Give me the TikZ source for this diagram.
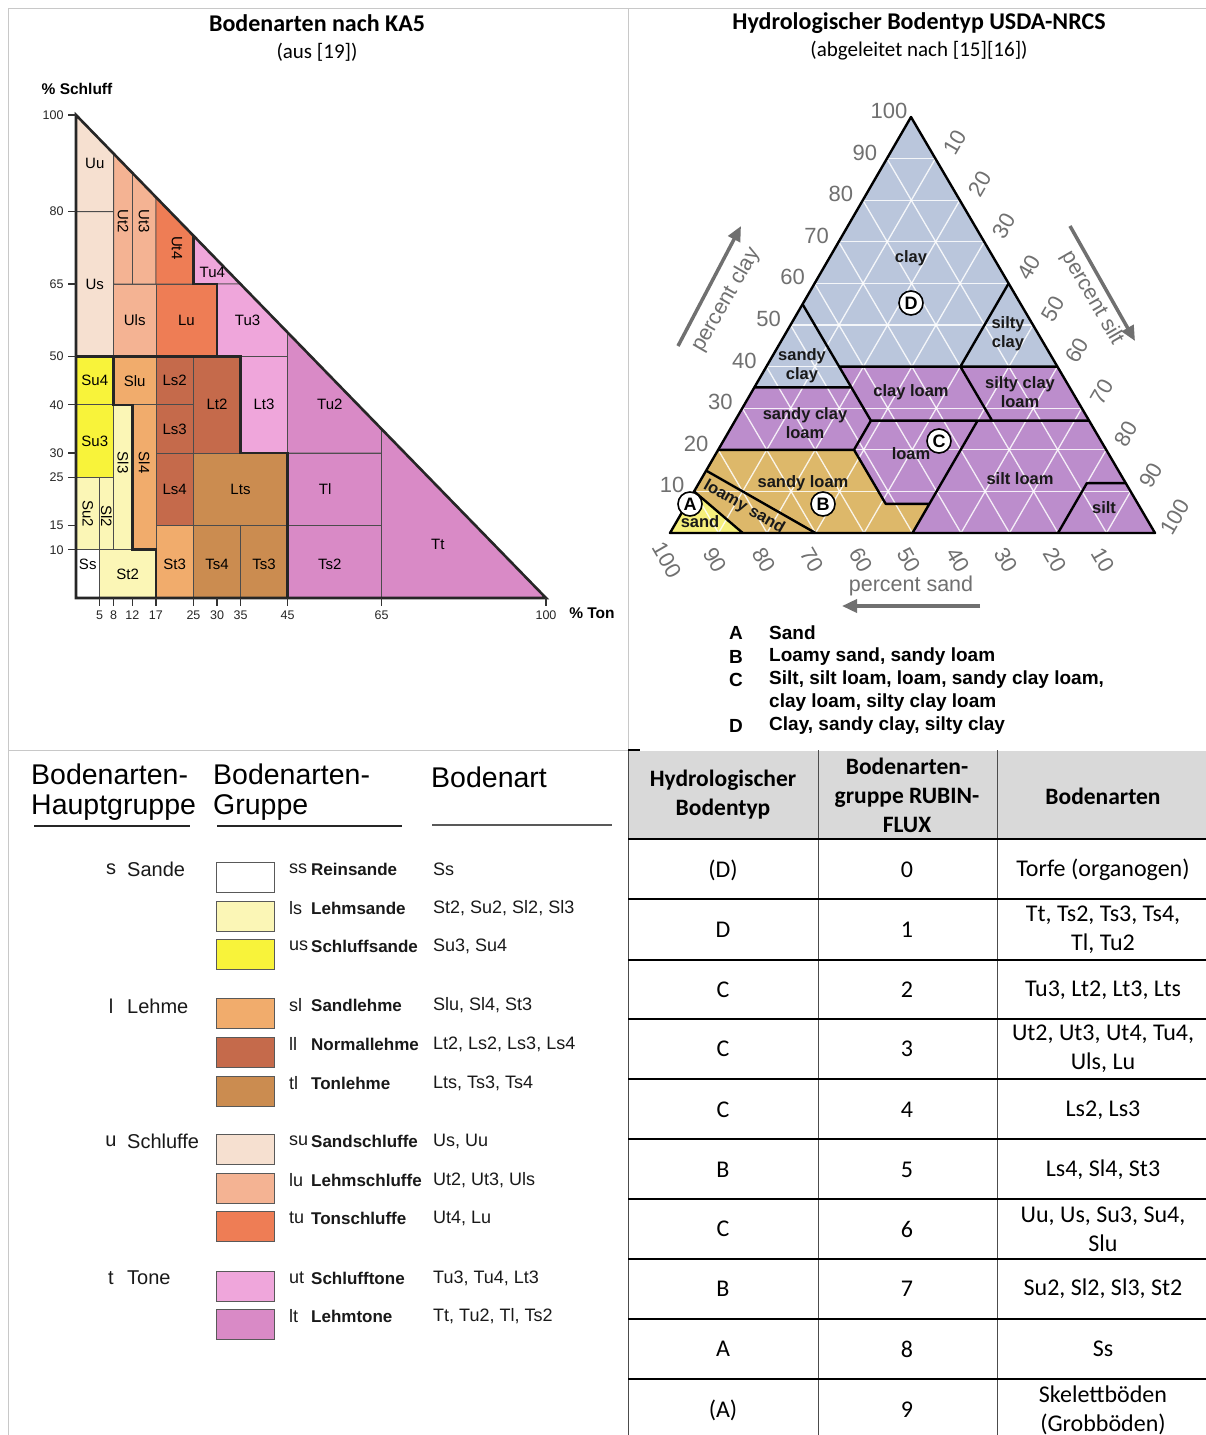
\documentclass[tikz,border=0pt]{standalone}
\usepackage{fontspec}
\setmainfont{Carlito}
\newfontfamily\arialfont{Liberation Sans}
\usetikzlibrary{arrows.meta}

\newcommand{\sz}[2]{\fontsize{#1}{#2}\selectfont}

\definecolor{framegray}{HTML}{C8C8C8}
\definecolor{axisgray}{HTML}{707070}
\definecolor{headgray}{HTML}{D9D9D9}
% KA5 groups
\definecolor{colss}{HTML}{FFFFFF}
\definecolor{colls}{HTML}{FBF6B6}
\definecolor{colus}{HTML}{F8F33A}
\definecolor{colsl}{HTML}{F1AC6C}
\definecolor{colll}{HTML}{C56A4B}
\definecolor{coltl}{HTML}{CB8C50}
\definecolor{colsu}{HTML}{F6E0D0}
\definecolor{collu}{HTML}{F4B393}
\definecolor{coltu}{HTML}{EE7D55}
\definecolor{colut}{HTML}{EFA6DB}
\definecolor{collt}{HTML}{D98AC6}
% USDA groups
\definecolor{usdaA}{HTML}{F6F07C}
\definecolor{usdaB}{HTML}{DDB86A}
\definecolor{usdaC}{HTML}{BC8DCC}
\definecolor{usdaD}{HTML}{BAC6DC}

\tikzset{
  panelrule/.style={draw=framegray, line width=1pt},
  paneltitle/.style={font=\bfseries\sz{24}{28}, inner sep=0pt},
  panelsub/.style={font=\sz{21}{25}, inner sep=0pt},
  region/.style={draw=black!70, line width=0.8pt},
  kabound/.style={draw=black!85, line width=2.6pt, line join=miter},
  kalabel/.style={font=\arialfont\sz{15}{15}, inner sep=0pt},
  kavert/.style={kalabel, rotate=-90},
  katick/.style={draw=black!80, line width=1.3pt},
  kanum/.style={font=\arialfont\sz{12.5}{13}, inner sep=0pt, text=black!85},
  kaaxis/.style={font=\arialfont\bfseries\sz{15.5}{16}, inner sep=0pt},
  usdagrid/.style={white, line width=1.3pt, opacity=0.85},
  usdaline/.style={black, line width=2.4pt, line join=round},
  usdalabel/.style={font=\arialfont\bfseries\sz{16.5}{19}, align=center, inner sep=0pt, text=black!90},
  usdaclass/.style={circle, draw=black, line width=1.6pt, fill=white, minimum size=24pt, inner sep=0pt, font=\arialfont\bfseries\sz{18}{18}},
  usdanum/.style={font=\arialfont\sz{22}{22}, text=axisgray, inner sep=0pt},
  usdaaxis/.style={font=\arialfont\sz{21.5}{22}, text=axisgray, inner sep=0pt},
  usdaarrow/.style={draw=axisgray, line width=3.5pt, -{Triangle[length=15pt,width=13pt]}},
  usdakey/.style={font=\arialfont\bfseries\sz{19}{22}, inner sep=0pt},
  leghead/.style={font=\arialfont\sz{28.5}{30}, text=black, align=left, anchor=west, inner sep=0pt},
  legrule/.style={draw=black!85, line width=2pt},
  leggroup/.style={font=\arialfont\sz{20}{20}, text=black!90, inner sep=0pt},
  legrow/.style={font=\arialfont\sz{18}{18}, text=black!90, anchor=west, inner sep=0pt},
  swatch/.style={draw=black!65, line width=1pt},
  tabh/.style={draw=black, line width=2pt},
  tabv/.style={draw=black!70, line width=1pt},
  tabhead/.style={font=\bfseries\sz{23.5}{29}, align=center, inner sep=0pt},
  tabcell/.style={font=\sz{24}{29}, align=center, inner sep=0pt},
}

\begin{document}
\begin{tikzpicture}[x=1pt, y=-1pt]
  \useasboundingbox[fill=white] (0,0) rectangle (1206,1435);

  % panels
  \draw[panelrule] (8,8) -- (1206,8);
  \draw[panelrule] (8,8) -- (8,1435);
  \draw[panelrule] (628,8) -- (628,750);
  \draw[panelrule] (8,750) -- (628,750);

  \node[paneltitle] (katitle) at (317,23) {Bodenarten nach KA5};
  \node[panelsub] (kasub) at (317,52) {(aus [19])};
  \node[paneltitle] (usdatitle) at (919,23) {Hydrologischer Bodentyp USDA-NRCS};
  \node[panelsub] (usdasub) at (919,51) {(abgeleitet nach [15][16])};

  % KA5 triangle, % Ton / % Schluff
  \begin{scope}[shift={(76,598)}, x={(4.7pt,0pt)}, y={(0pt,4.83pt)}]
    \foreach \xa/\ya/\xb/\yb/\c in {0/50/8/80/colsu, 8/50/17/65/collu, 17/50/30/65/coltu,
        35/30/45/50/colut, 45/15/65/30/collt, 45/0/65/15/collt, 0/40/8/50/colus,
        0/25/8/40/colus, 8/40/17/50/colsl, 12/10/17/40/colsl, 17/0/25/15/colsl,
        17/40/25/50/colll, 17/30/25/40/colll, 17/15/25/30/colll, 25/30/35/50/colll,
        25/15/45/30/coltl, 25/0/35/15/coltl, 35/0/45/15/coltl, 0/10/5/25/colls,
        5/10/8/25/colls, 8/10/12/40/colls, 5/0/17/10/colls, 0/0/5/10/colss}
      \filldraw[region, fill=\c] (\xa,\ya) rectangle (\xb,\yb);
    \filldraw[region, fill=colsu] (0,80) -- (8,80) -- (8,92) -- (0,100) -- cycle;
    \filldraw[region, fill=collu] (8,65) -- (12,65) -- (12,88) -- (8,92) -- cycle;
    \filldraw[region, fill=collu] (12,65) -- (17,65) -- (17,83) -- (12,88) -- cycle;
    \filldraw[region, fill=coltu] (17,65) -- (25,65) -- (25,75) -- (17,83) -- cycle;
    \filldraw[region, fill=colut] (25,65) -- (35,65) -- (25,75) -- cycle;
    \filldraw[region, fill=colut] (30,50) -- (45,50) -- (45,55) -- (35,65) -- (30,65) -- cycle;
    \filldraw[region, fill=collt] (45,30) -- (65,30) -- (65,35) -- (45,55) -- cycle;
    \filldraw[region, fill=collt] (65,0) -- (100,0) -- (65,35) -- cycle;

    \draw[kabound] (0,50) -- (35,50) -- (35,30) -- (45,30) -- (45,0);
    \draw[kabound] (8,50) -- (8,40) -- (12,40) -- (12,10) -- (17,10) -- (17,0);
    \draw[kabound] (25,75) -- (25,65) -- (30,65) -- (30,50);
    \draw[kabound] (0,0) -- (100,0) -- (0,100) -- cycle;

    \foreach \t/\x/\y in {Uu/4/90, Us/4/65, Uls/12.5/57.5, Lu/23.5/57.5, Tu3/36.5/57.5,
        Tu4/29/67.5, Su4/4/45, Slu/12.5/45, Ls2/21/45, Lt2/30/40, Lt3/40/40, Tu2/54/40,
        Ls3/21/35, Su3/4/32.5, Ls4/21/22.5, Lts/35/22.5, Tl/53/22.5, Tt/77/11, Ss/2.5/7,
        St2/11/5, St3/21/7, Ts4/30/7, Ts3/40/7, Ts2/54/7}
      \node[kalabel] (ka-\t) at (\x,\y) {\t};
    \foreach \t/\x/\y in {Ut2/10/78, Ut3/14.5/78, Ut4/21.5/72.5, Sl3/10/28, Sl4/14.5/28,
        Su2/2.5/17.5, Sl2/6.5/17}
      \node[kavert] (ka-\t) at (\x,\y) {\t};

    \foreach \v in {100,80,65,50,40,30,25,15,10} {
      \draw[katick] (-1.7,\v) -- (0,\v);
      \node[kanum, anchor=east] (schluff\v) at (-2.6,\v) {\v};
    }
    \foreach \v in {5,8,12,17,25,30,35,45,65,100} {
      \draw[katick] (\v,0) -- (\v,-1.7);
      \node[kanum] (ton\v) at (\v,-3.5) {\v};
    }
  \end{scope}
  \node[kaaxis] (schluff) at (77,89) {\% Schluff};
  \node[kaaxis] (ton) at (592,613) {\% Ton};

  % USDA triangle, (silt, clay)
  \begin{scope}[shift={(670,533)}, x={(4.85pt,0pt)}, y={(2.41pt,4.16pt)}]
    \fill[usdaC] (0,0) -- (100,0) -- (0,100) -- cycle;
    \fill[usdaD] (0,100) -- (60,40) -- (40,40) -- (15,40) -- (20,35) -- (0,35) -- cycle;
    \fill[usdaB] (0,10) -- (15,0) -- (50,0) -- (50,7) -- (41,7) -- (28,20) -- (0,20) -- cycle;
    \fill[usdaA] (0,0) -- (15,0) -- (0,10) -- cycle;
    \foreach \v in {10,20,...,90} {
      \draw[usdagrid] (0,\v) -- (100-\v,\v);
      \draw[usdagrid] (\v,0) -- (\v,100-\v);
      \draw[usdagrid] (\v,0) -- (0,\v);
    }
    \draw[usdaline] (0,55) -- (15,40) -- (40,40) -- (40,60)
                    (40,40) -- (60,40)
                    (0,35) -- (20,35)
                    (15,40) -- (20,35) -- (28,27)
                    (28,27) -- (73,27)
                    (40,40) -- (53,27)
                    (0,20) -- (28,20) -- (28,27)
                    (28,20) -- (41,7) -- (50,7)
                    (50,27) -- (50,0)
                    (80,0) -- (80,12) -- (88,12)
                    (0,15) -- (30,0)
                    (0,10) -- (15,0);
    \draw[usdaline] (0,0) -- (100,0) -- (0,100) -- cycle;
  \end{scope}

  \node[usdalabel] (clay) at (911,258) {clay};
  \node[usdalabel] (siltyclay) at (1008,334) {silty\\clay};
  \node[usdalabel] (sandyclay) at (802,366) {sandy\\clay};
  \node[usdalabel] (clayloam) at (911,392) {clay loam};
  \node[usdalabel] (siltyclayloam) at (1020,392) {silty clay\\loam};
  \node[usdalabel] (sandyclayloam) at (805,423) {sandy clay\\loam};
  \node[usdalabel] (loam) at (911,454) {loam};
  \node[usdalabel] (siltloam) at (1020,479) {silt loam};
  \node[usdalabel] (sandyloam) at (803,483) {sandy loam};
  \node[usdalabel] (silt) at (1104,508) {silt};
  \node[usdalabel, rotate=-30] (loamysand) at (744,507) {loamy sand};
  \node[usdalabel] (sand) at (700,522) {sand};
  \node[usdaclass] (classD) at (911,303) {D};
  \node[usdaclass] (classC) at (939,441) {C};
  \node[usdaclass] (classB) at (823,504) {B};
  \node[usdaclass] (classA) at (690,504) {A};

  \foreach \c in {10,20,...,100}
    \node[usdanum] (clay\c) at ({648+2.41*\c},{527-4.16*\c}) {\c};
  \foreach \t in {10,20,...,100}
    \node[usdanum, rotate=60] (silt\t) at ({690+4.85*\t+2.41*(100-\t)},{517-4.16*(100-\t)}) {\t};
  \foreach \s in {10,20,...,100}
    \node[usdanum, rotate=-60] (sand\s) at ({667+4.85*(100-\s)},560) {\s};

  \node[usdaaxis, rotate=60] (pclay) at (726,300) {percent clay};
  \node[usdaaxis, rotate=-60] (psilt) at (1092,298) {percent silt};
  \node[usdaaxis] (psand) at (911,586) {percent sand};
  \coordinate (clayfrom) at (678,346);
  \coordinate (clayto) at (741,226);
  \coordinate (siltfrom) at (1070,226);
  \coordinate (siltto) at (1135,341);
  \coordinate (sandfrom) at (980,606);
  \coordinate (sandto) at (842,606);
  \draw[usdaarrow] (clayfrom) -- (clayto);
  \draw[usdaarrow] (siltfrom) -- (siltto);
  \draw[usdaarrow] (sandfrom) -- (sandto);

  \foreach \y/\k/\t in {633/A/Sand, 657/B/{Loamy sand, sandy loam},
      680/C/{Silt, silt loam, loam, sandy clay loam,}, 726/D/{Clay, sandy clay, silty clay}} {
    \node[usdakey] (key\k) at (736,\y) {\k};
    \node[usdakey, anchor=west] (keytext\k) at (769,\y) {\t};
  }
  \node[usdakey, anchor=west] (keytextC2) at (769,703) {clay loam, silty clay loam};

  % KA5 legend
  \node[leghead] (hhaupt) at (31,792) {Bodenarten-\\Hauptgruppe};
  \node[leghead] (hgruppe) at (213,792) {Bodenarten-\\Gruppe};
  \node[leghead] (hart) at (431,777) {Bodenart};
  \draw[legrule] (34,826) -- (190,826);
  \draw[legrule] (217,826) -- (402,826);
  \draw[legrule, draw=black!65] (432,825) -- (612,825);

  \foreach \y/\k/\g in {869/s/Sande, 1006/l/Lehme, 1141/u/Schluffe, 1278/t/Tone} {
    \node[leggroup] (gk-\k) at (111,\y) {\k};
    \node[leggroup, anchor=west] (gn-\k) at (127,\y) {\g};
  }
  \foreach \y/\c/\a/\nm/\arts in {869/colss/ss/Reinsande/Ss,
      908/colls/ls/Lehmsande/{St2, Su2, Sl2, Sl3}, 946/colus/us/Schluffsande/{Su3, Su4},
      1005/colsl/sl/Sandlehme/{Slu, Sl4, St3}, 1044/colll/ll/Normallehme/{Lt2, Ls2, Ls3, Ls4},
      1083/coltl/tl/Tonlehme/{Lts, Ts3, Ts4}, 1141/colsu/su/Sandschluffe/{Us, Uu},
      1180/collu/lu/Lehmschluffe/{Ut2, Ut3, Uls}, 1218/coltu/tu/Tonschluffe/{Ut4, Lu},
      1278/colut/ut/Schlufftone/{Tu3, Tu4, Lt3}, 1316/collt/lt/Lehmtone/{Tt, Tu2, Tl, Ts2}} {
    \draw[swatch, fill=\c] (216,\y-7) rectangle (274,\y+23);
    \node[legrow] (ab-\a) at (289,\y) {\a};
    \node[legrow, font=\arialfont\bfseries\sz{17}{17}] (nm-\a) at (311,\y) {\nm};
    \node[legrow] (art-\a) at (433,\y) {\arts};
  }

  % table
  \fill[headgray] (628,751) rectangle (1206,839);
  \draw[tabv] (628,750) -- (628,1435) (818,750) -- (818,1435) (997,750) -- (997,1435);
  \draw[tabh] (628,750) -- (640,750);
  \foreach \y in {839,899,960,1019,1079,1139,1199,1259,1319,1379}
    \draw[tabh] (628,\y) -- (1206,\y);
  \node[tabhead] (htyp) at (723,795) {Hydrologischer\\Bodentyp};
  \node[tabhead] (hgrp) at (907,795) {Bodenarten-\\gruppe RUBIN-\\FLUX};
  \node[tabhead] (hart2) at (1103,796) {Bodenarten};
  \foreach \y/\h/\n/\t in {870/(D)/0/Torfe (organogen), 930/D/1/{Tt, Ts2, Ts3, Ts4,\\Tl, Tu2},
      990/C/2/{Tu3, Lt2, Lt3, Lts}, 1049/C/3/{Ut2, Ut3, Ut4, Tu4,\\Uls, Lu},
      1110/C/4/{Ls2, Ls3}, 1170/B/5/{Ls4, Sl4, St3}, 1229/C/6/{Uu, Us, Su3, Su4,\\Slu},
      1289/B/7/{Su2, Sl2, Sl3, St2}, 1349/A/8/Ss, 1410/(A)/9/{Skelettböden\\(Grobböden)}} {
    \node[tabcell] (typ\n) at (723,\y) {\h};
    \node[tabcell] (grp\n) at (907,\y) {\n};
    \node[tabcell] (art\n) at (1103,\y) {\t};
  }
\end{tikzpicture}
\end{document}
